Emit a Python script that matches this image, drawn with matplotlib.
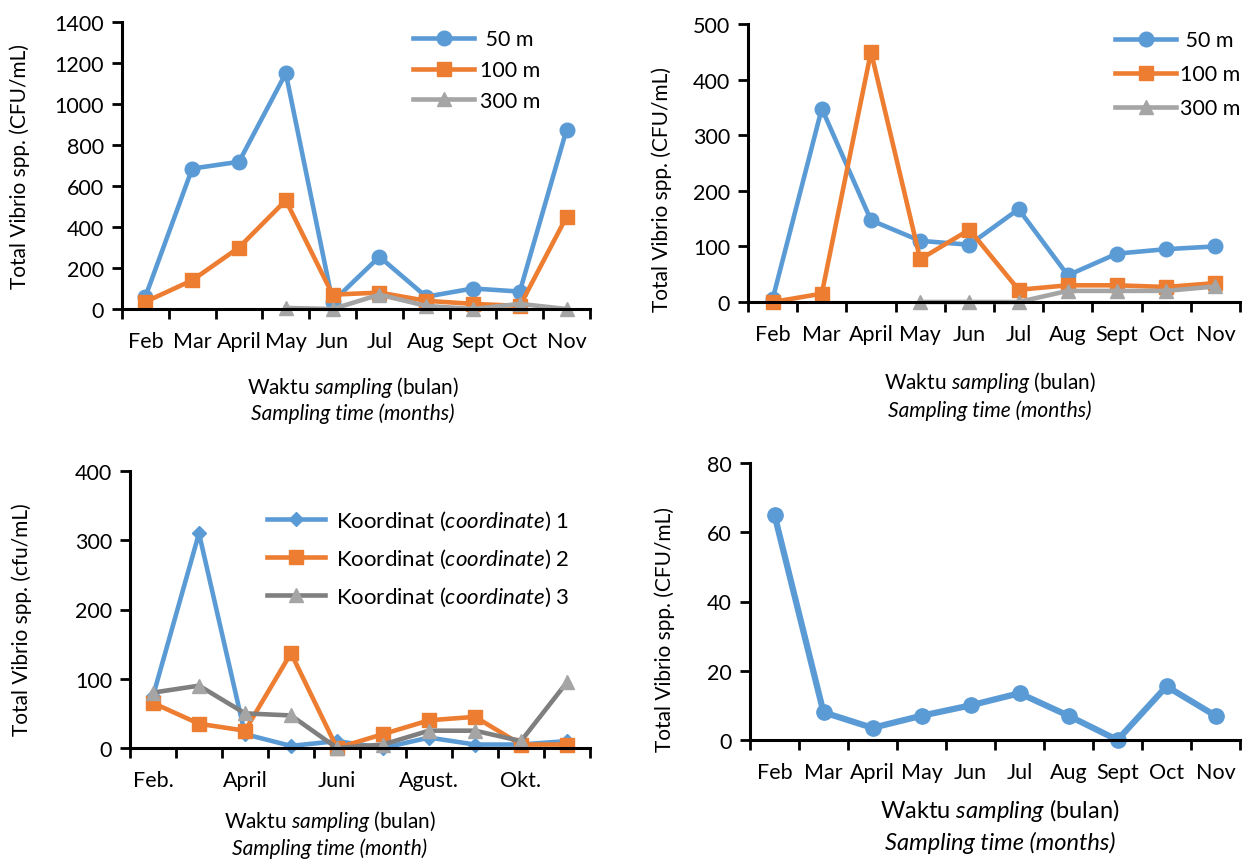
import matplotlib
matplotlib.use("Agg")
import matplotlib.pyplot as plt
import numpy as np

plt.rcParams['font.family'] = ['Lato', 'DejaVu Sans']
plt.rcParams['mathtext.fontset'] = 'custom'
plt.rcParams['mathtext.rm'] = 'Lato'
plt.rcParams['mathtext.it'] = 'Lato:italic'

months = ['Feb', 'Mar', 'April', 'May', 'Jun', 'Jul', 'Aug', 'Sept', 'Oct', 'Nov']
months3 = ['Feb.', '', 'April', '', 'Juni', '', 'Agust.', '', 'Okt.', '']

# panel a
a_50 = [60, 685, 718, 1150, 35, 255, 60, 100, 85, 875]
a_100 = [35, 140, 300, 530, 70, 80, 40, 25, 15, 450]
a_300 = [None, None, None, 5, 0, 70, 15, 0, 25, 0]
# panel b
b_50 = [5, 348, 147, 110, 103, 167, 48, 87, 95, 100]
b_100 = [0, 15, 450, 77, 130, 22, 30, 30, 27, 34]
b_300 = [None, None, None, 0, 0, 0, 20, 20, 20, 28]
# panel c
c_k1 = [75, 310, 20, 3, 10, 0, 15, 5, 5, 10]
c_k2 = [65, 35, 25, 137, 0, 20, 40, 45, 5, 5]
c_k3 = [80, 90, 50, 47, 0, 5, 25, 25, 10, 95]
# panel d
d_vals = [65, 8, 3.5, 7, 10, 13.5, 7, 0, 15.5, 7]

BLUE = '#5b9bd5'
ORANGE = '#ed7d31'
GRAY = '#a5a5a5'
DGRAY = '#7f7f7f'

W, H = 1248, 862
fig = plt.figure(figsize=(W / 100, H / 100), dpi=100)


def px_axes(left, right, top, bottom):
    return fig.add_axes([left / W, 1 - bottom / H, (right - left) / W, (bottom - top) / H])


def style(ax, ymax, ystep, labels):
    n = len(labels)
    ax.set_xlim(-0.5, n - 0.5)
    ax.set_ylim(0, ymax)
    ax.set_yticks(np.arange(0, ymax + 1, ystep))
    ax.set_xticks(np.arange(-0.5, n, 1.0))
    ax.set_xticklabels([])
    ax.set_xticks(np.arange(n), minor=True)
    ax.set_xticklabels(labels, minor=True)
    ax.tick_params(axis='x', which='major', length=7, width=2, direction='out')
    ax.tick_params(axis='x', which='minor', length=0, pad=16, labelsize=15.5)
    ax.tick_params(axis='y', length=7, width=2, direction='out', labelsize=15.5, pad=6)
    for s in ['top', 'right']:
        ax.spines[s].set_visible(False)
    for s in ['left', 'bottom']:
        ax.spines[s].set_linewidth(2.2)
    ax.patch.set_alpha(0)


def ftext(x, y, s, size=15, **kw):
    fig.text(x / W, 1 - y / H, s, ha='center', va='center', fontsize=size, **kw)


x = np.arange(10)
lw = 3.3
ms = 10.5

# ---- top left
ax1 = px_axes(122, 590, 23, 310)
ax1.plot(x, np.array(a_50, dtype=float), color=BLUE, lw=lw, marker='o', ms=ms, label=' 50 m', clip_on=False)
ax1.plot(x, np.array(a_100, dtype=float), color=ORANGE, lw=lw, marker='s', ms=ms, label='100 m', clip_on=False)
ax1.plot(x, np.array(a_300, dtype=float), color=GRAY, lw=lw, marker='^', ms=ms, label='300 m', clip_on=False)
style(ax1, 1400, 200, months)
ax1.legend(loc='upper left', bbox_to_anchor=(394 / W, 1 - 11 / H), bbox_transform=fig.transFigure,
           frameon=False, fontsize=15.5, handlelength=2.8, handletextpad=0.3, labelspacing=0.5)
ftext(20, 167, 'Total Vibrio spp. (CFU/mL)', rotation=90)
ftext(353, 387, 'Waktu $\\mathit{sampling}$ (bulan)')
ftext(353, 414, 'Sampling time (months)', style='italic')

# ---- top right
ax2 = px_axes(748, 1240, 25, 303)
ax2.plot(x, np.array(b_50, dtype=float), color=BLUE, lw=lw, marker='o', ms=ms, label=' 50 m', clip_on=False)
ax2.plot(x, np.array(b_100, dtype=float), color=ORANGE, lw=lw, marker='s', ms=ms, label='100 m', clip_on=False)
ax2.plot(x, np.array(b_300, dtype=float), color=GRAY, lw=lw, marker='^', ms=ms, label='300 m', clip_on=False)
style(ax2, 500, 100, months)
ax2.legend(loc='upper left', bbox_to_anchor=(1096 / W, 1 - 12 / H), bbox_transform=fig.transFigure,
           frameon=False, fontsize=15.5, handlelength=2.8, handletextpad=0.2, labelspacing=0.65)
ftext(662, 190, 'Total Vibrio spp. (CFU/mL)', rotation=90)
ftext(990, 383, 'Waktu $\\mathit{sampling}$ (bulan)')
ftext(990, 411, 'Sampling time (months)', style='italic')

# ---- bottom left
ax3 = px_axes(130, 590, 472, 749)
ax3.plot(x, c_k1, color=BLUE, lw=lw, marker='D', ms=7.5, label='Koordinat ($\\mathit{coordinate}$) 1', clip_on=False)
ax3.plot(x, c_k2, color=ORANGE, lw=lw, marker='s', ms=ms, label='Koordinat ($\\mathit{coordinate}$) 2', clip_on=False)
ax3.plot(x, c_k3, color=DGRAY, lw=lw, marker='^', ms=ms, mfc=GRAY, mec=GRAY,
         label='Koordinat ($\\mathit{coordinate}$) 3', clip_on=False)
style(ax3, 400, 100, months3)
ax3.legend(loc='upper left', bbox_to_anchor=(247 / W, 1 - 490 / H), bbox_transform=fig.transFigure,
           frameon=False, fontsize=16, handlelength=2.6, handletextpad=0.5, labelspacing=0.65)
ftext(22, 620, 'Total Vibrio spp. (cfu/mL)', rotation=90)
ftext(330, 822, 'Waktu $\\mathit{sampling}$ (bulan)')
ftext(330, 849, 'Sampling time (month)', style='italic')

# ---- bottom right
ax4 = px_axes(750, 1240, 464, 741)
ax4.plot(x, d_vals, color=BLUE, lw=4.5, marker='o', ms=11, clip_on=False)
style(ax4, 80, 20, months)
ftext(665, 630, 'Total Vibrio spp. (CFU/mL)', rotation=90)
ftext(1000, 811, 'Waktu $\\mathit{sampling}$ (bulan)', size=17)
ftext(1000, 843, 'Sampling time (months)', size=17, style='italic')

fig.savefig('out.png', dpi=100)
